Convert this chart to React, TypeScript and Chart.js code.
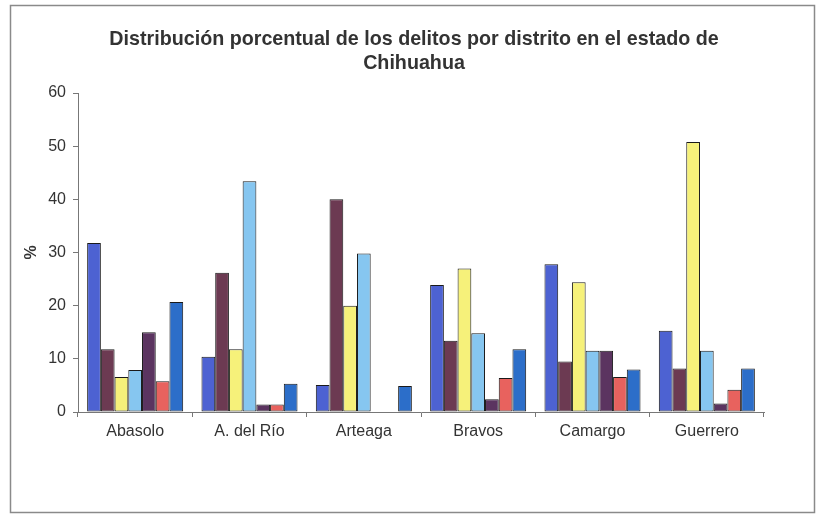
import React, { useEffect, useRef } from "react";
import { Chart, registerables } from "chart.js";

Chart.register(...registerables);

const categories = ["Abasolo", "A. del Río", "Arteaga", "Bravos", "Camargo", "Guerrero"];
const serie1 = [31.8, 10.4, 5.1, 23.9, 27.8, 15.3];
const serie2 = [11.8, 26.2, 40.0, 13.4, 9.5, 8.2];
const serie3 = [6.6, 11.8, 20.0, 27.0, 24.4, 50.8];
const serie4 = [7.9, 43.4, 29.8, 14.8, 11.5, 11.5];
const serie5 = [15.0, 1.4, 0, 2.4, 11.5, 1.6];
const serie6 = [5.8, 1.4, 0, 6.4, 6.6, 4.2];
const serie7 = [20.7, 5.3, 4.9, 11.8, 8.0, 8.2];
const seriesValues = [serie1, serie2, serie3, serie4, serie5, serie6, serie7];
const seriesColors = ["#4d62d2", "#6c3a52", "#f6f17a", "#86c6f0", "#5b3460", "#e8625e", "#2c6ec9"];
const yTicks = [0, 10, 20, 30, 40, 50, 60];
const titleLines = ["Distribución porcentual de los delitos por distrito en el estado de", "Chihuahua"];

const FONT = "'Liberation Sans', Arial, sans-serif";

export default function App() {
  const ref = useRef<HTMLCanvasElement>(null);
  useEffect(() => {
    document.body.style.margin = "0";
    const framePlugin = {
      id: "frame",
      beforeDraw(chart: any) {
        const ctx = chart.ctx;
        ctx.save();
        ctx.fillStyle = "#ffffff";
        ctx.fillRect(0, 0, chart.width, chart.height);
        ctx.strokeStyle = "#8a8a8a";
        ctx.lineWidth = 1.5;
        ctx.strokeRect(10.5, 5.5, 804, 507);
        ctx.fillStyle = "#333333";
        ctx.font = "bold 19.7px " + FONT;
        ctx.textAlign = "center";
        ctx.textBaseline = "middle";
        ctx.fillText(titleLines[0], 414, 40);
        ctx.fillText(titleLines[1], 414, 64);
        ctx.restore();
      },
    };
    const chart = new Chart(ref.current!, {
      type: "bar",
      data: {
        labels: categories,
        datasets: seriesValues.map((vals, i) => ({
          label: "Serie " + (i + 1),
          data: vals,
          backgroundColor: seriesColors[i],
          borderColor: "#1a1a1a",
          borderWidth: 1,
          borderSkipped: false,
          categoryPercentage: 0.84,
          barPercentage: 1.0,
        })),
      },
      options: {
        animation: false,
        responsive: false,
        maintainAspectRatio: false,
        layout: { padding: { left: 10, right: 53, top: 93, bottom: 71 } },
        plugins: {
          legend: { display: false },
          tooltip: { enabled: false },
          title: { display: false },
        },
        scales: {
          x: {
            grid: { display: true, drawOnChartArea: false, drawTicks: true, tickLength: 5, color: "#777", offset: true },
            border: { display: true, color: "#777", width: 1 },
            ticks: { color: "#333", font: { family: FONT, size: 16 }, padding: 5 },
            afterFit(scale: any) { scale.height = 35; },
          },
          y: {
            min: 0,
            max: 60,
            afterBuildTicks(scale: any) { scale.ticks = yTicks.map((v) => ({ value: v })); },
            grid: { display: true, drawOnChartArea: false, drawTicks: true, tickLength: 5, color: "#777" },
            border: { display: true, color: "#777", width: 1 },
            ticks: { color: "#333", font: { family: FONT, size: 16 }, padding: 7 },
            title: { display: true, text: "%", color: "#333", font: { family: FONT, size: 16, weight: "bold" }, padding: { top: 12, bottom: 0 } },
            afterFit(scale: any) { scale.width = 68; },
          },
        },
      },
      plugins: [framePlugin],
    } as any);
    return () => chart.destroy();
  }, []);
  return <canvas ref={ref} width={817} height={518} style={{ display: "block", width: 817, height: 518 }} />;
}
